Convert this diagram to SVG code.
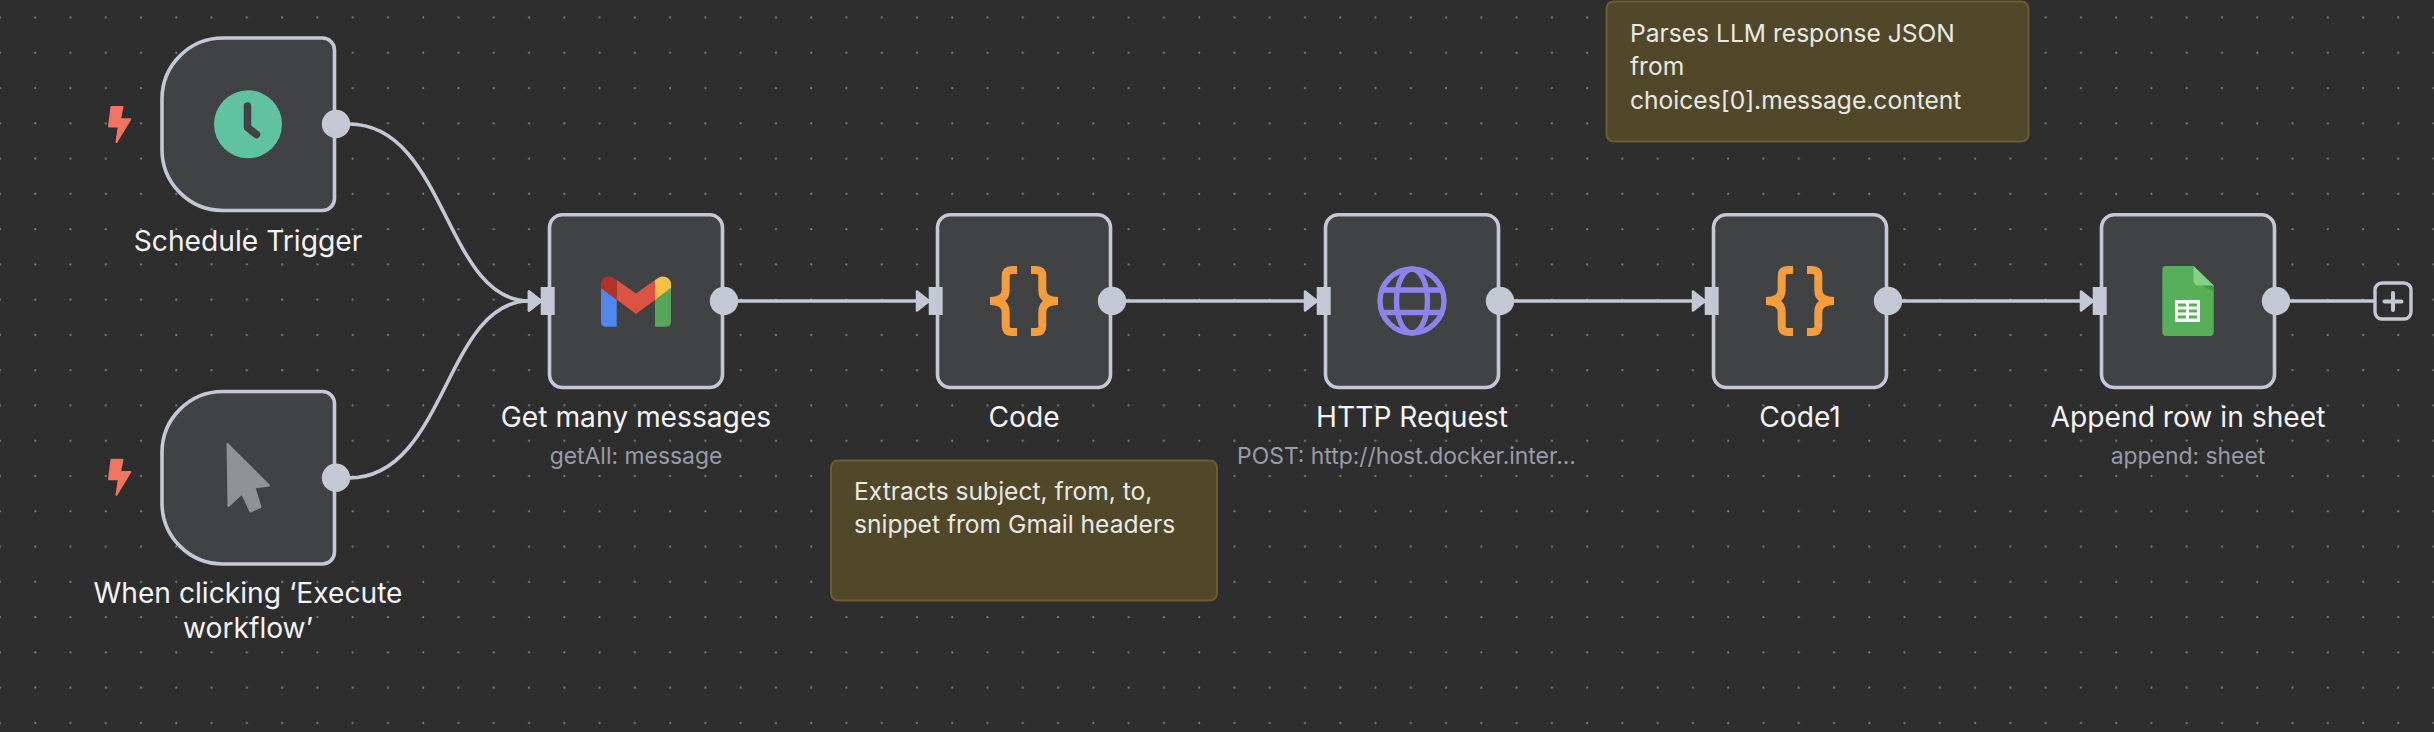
<svg xmlns="http://www.w3.org/2000/svg" width="2434" height="732" viewBox="0 0 2434 732">
<style>
text{font-family:Inter,"Liberation Sans",sans-serif}
.box{fill:#414244;stroke:#c4c8d4;stroke-width:3.6}
.hd{fill:#c4c8d4}
.wire{fill:none;stroke:#c4c8d4;stroke-width:3.6}
.lbl{fill:#f4f4f7;font-size:28.2px;text-anchor:middle}
.sub{fill:#999ca8;font-size:22.9px;text-anchor:middle}
.note{fill:#51482a;stroke:#6b5c33;stroke-width:2}
.ntx{fill:#e8e8e6;font-size:24.6px}
.bolt{fill:#f2755f;stroke:#f2755f;stroke-width:2;stroke-linejoin:round}
.brace{fill:none;stroke:#f59d3c;stroke-width:8}
.globe{fill:none;stroke:#8c84ec;stroke-width:5.4}
</style>
<defs>
<pattern id="dots" patternUnits="userSpaceOnUse" x="-10" y="7.6" width="35.27" height="35.27"><circle cx="10" cy="10" r="1.100" fill="#808080"/></pattern>
<marker id="arr" markerUnits="userSpaceOnUse" viewBox="0 0 16 24" refX="15" refY="12" markerWidth="16" markerHeight="24" orient="auto"><path d="M2,2.500 L14,12 L2,21.500Z" fill="#c4c8d4" stroke="#c4c8d4" stroke-width="2.500" stroke-linejoin="round"/></marker>
<path id="bolt" class="bolt" d="M111.500,107H122.500L120,119.300H130.300L116.500,142L118.800,126.500H109Z"/>
<g id="braces"><path class="brace" d="M-7,-31H-12Q-18.300,-31 -18.300,-25V-11Q-18.300,0 -34,0Q-18.300,0 -18.300,11V25Q-18.300,31 -12,31H-7"/><path class="brace" d="M7,-31H12Q18.300,-31 18.300,-25V-11Q18.300,0 34,0Q18.300,0 18.300,11V25Q18.300,31 12,31H7"/></g>
</defs>
<rect width="2434" height="732" fill="#2e2e2e"/>
<rect width="2434" height="732" fill="url(#dots)"/>
<g id="connectors">
<path class="wire" marker-end="url(#arr)" d="M349,124C446,124 445,301 529,301H542"/>
<path class="wire" marker-end="url(#arr)" d="M349,478C446,478 445,301 529,301H542"/>
<path class="wire" marker-end="url(#arr)" d="M737,301H930"/>
<path class="wire" marker-end="url(#arr)" d="M1125,301H1318"/>
<path class="wire" marker-end="url(#arr)" d="M1513,301H1706"/>
<path class="wire" marker-end="url(#arr)" d="M1901,301H2094"/>
<path class="wire" d="M2289,301H2376"/>
</g>
<g id="note-code"><rect class="note" x="831" y="460.500" width="386" height="140" rx="7"/><text class="ntx" x="854" y="499.500">Extracts subject, from, to,</text><text class="ntx" x="854" y="533">snippet from Gmail headers</text></g>
<g id="note-code1"><rect class="note" x="1606.500" y="1.500" width="422" height="140" rx="7"/><text class="ntx" x="1630" y="41.500">Parses LLM response JSON</text><text class="ntx" x="1630" y="75">from</text><text class="ntx" x="1630" y="108.500">choices[0].message.content</text></g>
<g id="schedule-trigger">
<use href="#bolt"/>
<path class="box" d="M223,38H322.500A12,12 0 0 1 334.500,50V198.500A12,12 0 0 1 322.500,210.500H223A61,61 0 0 1 162,149.500V99A61,61 0 0 1 223,38Z"/>
<circle cx="248" cy="124.300" r="34" fill="#61c2a2"/>
<path d="M247.500,106V127.500L256.500,134.500" fill="none" stroke="#414244" stroke-width="7.500" stroke-linecap="round" stroke-linejoin="round"/>
<circle class="hd" cx="336" cy="124" r="14.200"/>
<text class="lbl" x="248" y="250.500">Schedule Trigger</text>
</g>
<g id="manual-trigger">
<use href="#bolt" y="352.800"/>
<path class="box" d="M223,391.500H322.500A12,12 0 0 1 334.500,403.500V552A12,12 0 0 1 322.500,564H223A61,61 0 0 1 162,503V452.500A61,61 0 0 1 223,391.500Z"/>
<path d="M227.500,444L269,485.500L254.500,487.500L260.500,507L250.500,511.500L242,493.500L228.500,506Z" fill="#909296" stroke="#909296" stroke-width="2" stroke-linejoin="round"/>
<circle class="hd" cx="336" cy="477.700" r="14.200"/>
<text class="lbl" x="248" y="603">When clicking ‘Execute</text>
<text class="lbl" x="248" y="638">workflow’</text>
</g>
<g id="get-many-messages">
<rect class="box" x="549.500" y="214.700" width="173" height="172.800" rx="13"/>
<rect class="hd" x="540.700" y="287" width="14" height="28"/>
<circle class="hd" cx="724" cy="301" r="14.200"/>
<path fill="#5486f0" d="M601,288L616.700,299.500V326.700H606Q601,326.700 601,321.700Z"/>
<path fill="#57a65c" d="M671,288L655,300V326.700H666Q671,326.700 671,321.700Z"/>
<path fill="#dc5343" d="M616.700,280L636,293.500L655,280V300L636,314L616.700,299.500Z"/>
<path fill="#b13328" d="M601,288V283A8.200,8.200 0 0 1 613,277.600L616.700,280V299.500Z"/>
<path fill="#f3c144" d="M671,288V283A8.200,8.200 0 0 0 659,277.600L655,280V300Z"/>
<text class="lbl" x="636" y="426.500">Get many messages</text>
<text class="sub" x="636" y="464">getAll: message</text>
</g>
<g id="code">
<rect class="box" x="937.500" y="214.700" width="173" height="172.800" rx="13"/>
<rect class="hd" x="928.700" y="287" width="14" height="28"/>
<circle class="hd" cx="1112" cy="301" r="14.200"/>
<use href="#braces" x="1024" y="301"/>
<text class="lbl" x="1024" y="426.500">Code</text>
</g>
<g id="http-request">
<rect class="box" x="1325.500" y="214.700" width="173" height="172.800" rx="13"/>
<rect class="hd" x="1316.700" y="287" width="14" height="28"/>
<circle class="hd" cx="1500" cy="301" r="14.200"/>
<circle class="globe" cx="1412" cy="301" r="32"/>
<ellipse class="globe" cx="1412" cy="301" rx="15.500" ry="32"/>
<path class="globe" d="M1383,290H1441M1383,312.500H1441"/>
<text class="lbl" x="1412" y="426.500">HTTP Request</text>
<text class="sub" x="1406.500" y="464">POST: http://host.docker.inter...</text>
</g>
<g id="code1">
<rect class="box" x="1713.500" y="214.700" width="173" height="172.800" rx="13"/>
<rect class="hd" x="1704.700" y="287" width="14" height="28"/>
<circle class="hd" cx="1888" cy="301" r="14.200"/>
<use href="#braces" x="1800" y="301"/>
<text class="lbl" x="1800" y="426.500">Code1</text>
</g>
<g id="append-row">
<rect class="box" x="2101.500" y="214.700" width="173" height="172.800" rx="13"/>
<rect class="hd" x="2092.700" y="287" width="14" height="28"/>
<circle class="hd" cx="2276" cy="301" r="14.200"/>
<path fill="#57b057" d="M2166,266H2193.500L2213.700,285.500V332Q2213.700,336 2209.700,336H2166Q2162.300,336 2162.300,332V270Q2162.300,266 2166,266Z"/>
<path fill="#43994c" d="M2193.500,281L2213.700,292V285.500L2193.500,281Z"/>
<path fill="#85d083" d="M2193.500,266L2213.700,285.500H2199Q2193.500,285.500 2193.500,280Z"/>
<rect x="2175" y="300" width="25" height="22" rx="1" fill="#fff"/>
<path fill="#57b057" d="M2178,303.500h8v3h-8zM2189,303.500h8v3h-8zM2178,309.500h8v3h-8zM2189,309.500h8v3h-8zM2178,315.500h8v3h-8zM2189,315.500h8v3h-8z"/>
<text class="lbl" x="2188" y="426.500">Append row in sheet</text>
<text class="sub" x="2188" y="464">append: sheet</text>
</g>
<g id="add-button">
<rect x="2375" y="283" width="36" height="36" rx="7" fill="#2e2e2e" stroke="#c4c8d4" stroke-width="3.400"/>
<path d="M2384.500,301.500H2401.500M2393,293V310" stroke="#c4c8d4" stroke-width="4" fill="none" stroke-linecap="round"/>
</g>
</svg>
